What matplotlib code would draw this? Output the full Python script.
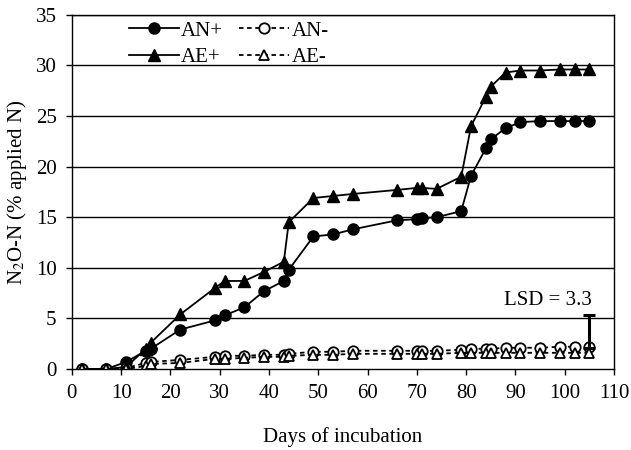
import matplotlib
matplotlib.use("Agg")
import matplotlib.pyplot as plt

plt.rcParams['font.family'] = ['Liberation Serif', 'DejaVu Serif']
plt.rcParams['mathtext.fontset'] = 'stix'

# sampling days
days = [2, 7, 11, 15, 16, 22, 29, 31, 35, 39, 43, 44, 49, 53, 57, 66, 70, 71, 74,
        79, 81, 84, 85, 88, 91, 95, 99, 102, 105]

an_plus = [0, 0, 0.7, 1.8, 2.0, 3.9, 4.8, 5.3, 6.1, 7.7, 8.7, 9.8, 13.1, 13.3, 13.8,
           14.7, 14.8, 14.9, 15.0, 15.6, 19.1, 21.8, 22.7, 23.8, 24.4, 24.5, 24.5, 24.5, 24.5]
ae_plus = [0, 0, 0.2, 2.0, 2.6, 5.4, 8.0, 8.7, 8.7, 9.6, 10.6, 14.5, 16.9, 17.1, 17.3,
           17.7, 17.9, 17.9, 17.8, 19.0, 24.0, 26.9, 27.9, 29.3, 29.5, 29.5, 29.6, 29.6, 29.6]
an_minus = [0, 0, 0.1, 0.6, 0.7, 0.9, 1.2, 1.3, 1.3, 1.4, 1.4, 1.5, 1.7, 1.7, 1.8,
            1.8, 1.8, 1.8, 1.8, 1.9, 2.0, 2.0, 2.0, 2.1, 2.1, 2.1, 2.2, 2.2, 2.2]
ae_minus = [0, 0, 0, 0.3, 0.5, 0.6, 1.0, 1.0, 1.1, 1.2, 1.2, 1.3, 1.4, 1.4, 1.5,
            1.5, 1.5, 1.5, 1.5, 1.6, 1.6, 1.6, 1.6, 1.6, 1.6, 1.6, 1.6, 1.6, 1.6]

lsd_value = 3.3
lsd_day = 105

fig = plt.figure(figsize=(6.31, 4.5), dpi=100)
ax = fig.add_axes([0.114, 0.18, 0.859, 0.787])

for yv in range(5, 40, 5):
    ax.axhline(yv, color='black', lw=1.0, zorder=0)

h_anp, = ax.plot(days, an_plus, '-', color='black', marker='o', ms=8, mfc='black', lw=1.3)
h_anm, = ax.plot(days, an_minus, '--', color='black', marker='o', ms=7.5, mfc='white', mew=1.3,
                 lw=1.3, dashes=(2.5, 2))
h_aep, = ax.plot(days, ae_plus, '-', color='black', marker='^', ms=9, mfc='black', lw=1.3)
h_aem, = ax.plot(days, ae_minus, '--', color='black', marker='^', ms=7.5, mfc='white', mew=1.3,
                 lw=1.3, dashes=(2.5, 2))

# LSD bar
lsd_base = an_minus[-1] - 0.15
ax.errorbar([lsd_day], [lsd_base + lsd_value], yerr=[[lsd_value], [0]], fmt='none',
            ecolor='black', elinewidth=2.2, capsize=4, capthick=2.2)
ax.text(lsd_day + 0.5, lsd_base + lsd_value + 0.5, 'LSD = 3.3', ha='right', va='bottom', fontsize=15)

ax.set_xlim(0, 110)
ax.set_ylim(0, 35)
ax.set_xticks(range(0, 111, 10))
ax.set_yticks(range(0, 36, 5))
ax.tick_params(labelsize=15, direction='out', length=4, width=1, pad=7)
ax.set_xlabel('Days of incubation', fontsize=15, labelpad=17)
ax.set_ylabel('N$_2$O-N (% applied N)', fontsize=15, labelpad=5)
for s in ax.spines.values():
    s.set_linewidth(1.0)

ax.legend([h_anp, h_aep, h_anm, h_aem], ['AN+', 'AE+', 'AN-', 'AE-'], loc='upper left',
          bbox_to_anchor=(0.07, 1.035), ncol=2, frameon=False, fontsize=15, handlelength=2.4,
          handletextpad=0.1, columnspacing=0.8, labelspacing=0.33)

fig.savefig('out.png', dpi=100)
